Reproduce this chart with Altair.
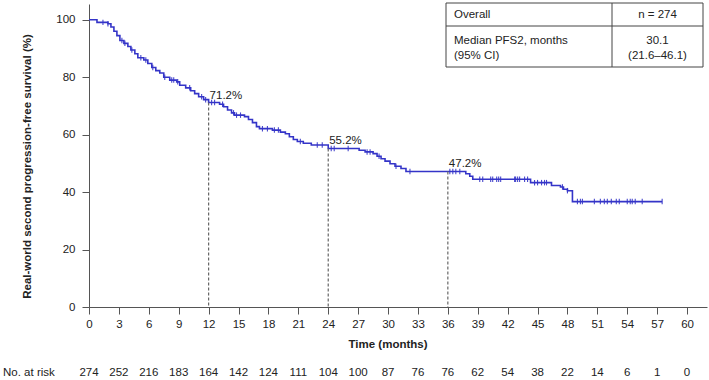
import altair as alt
import pandas as pd
import numpy as np

FONT = "Liberation Sans"
BLUE = "#3434C8"
TXT = "#222222"
AX = "#555555"

# Kaplan-Meier step curve (time in months, survival %)
step_t = [0, 0.8, 1.9, 2.2, 2.5, 2.8, 3.1, 3.5, 3.9, 4.2, 4.6, 4.9, 5.5, 5.9, 6.3, 6.7,
          7.1, 7.5, 8.1, 8.8, 9.1, 9.7, 10.2, 10.6, 11.0, 11.5, 12.0, 13.1, 13.5, 13.9,
          14.3, 14.6, 15.6, 16.0, 16.4, 16.8, 17.1, 18.4, 19.2, 19.7, 20.1, 20.5, 20.9,
          21.5, 22.3, 24.0, 27.1, 27.7, 28.5, 28.9, 29.3, 29.7, 30.2, 30.7, 31.3, 31.8,
          37.8, 38.2, 38.5, 44.3, 46.4, 47.3, 47.6, 48.0, 48.5, 57.5]
step_s = [100, 99.1, 98.6, 97.5, 96.0, 94.5, 92.8, 91.8, 90.7, 89.5, 88.2, 86.8, 86.0, 84.8,
          83.4, 82.3, 81.5, 80.0, 79.0, 78.4, 77.2, 76.3, 75.3, 74.3, 73.2, 72.2, 71.2, 70.6,
          69.7, 68.6, 67.6, 66.8, 66.3, 65.3, 64.2, 62.8, 62.1, 61.6, 60.9, 60.3, 59.3, 58.3,
          57.6, 57.0, 56.4, 55.2, 54.6, 54.0, 53.4, 52.5, 51.6, 50.8, 49.9, 49.0, 48.2, 47.2,
          46.4, 45.5, 44.5, 43.3, 42.3, 41.8, 41.0, 40.5, 36.7, 36.7]

# censored observations (months)
censor_t = [1.4, 1.9, 3.3, 3.6, 4.3, 5.2, 5.7, 6.4, 7.6, 8.3, 8.5, 8.9, 10.1, 11.3, 11.7,
            12.3, 12.6, 13.4, 14.5, 14.8, 15.2, 17.4, 17.9, 18.6, 19.0, 21.2, 22.9, 23.4,
            24.3, 24.6, 26.0, 27.9, 28.2, 29.1, 30.8, 32.2, 36.2, 36.5, 36.8, 37.2,
            39.2, 39.5, 40.3, 40.5, 40.9, 41.1, 41.3, 42.7, 42.8, 43.0, 43.2, 43.7, 44.0,
            44.7, 45.0, 45.4, 45.7, 45.9, 47.5, 48.0,
            49.0, 49.3, 49.5, 50.7, 51.3, 51.7, 52.0, 52.4, 52.9, 53.2, 54.0, 54.3, 54.5,
            54.8, 55.5, 57.5]

landmark_t = [12, 24, 36]
landmark_s = [71.2, 55.2, 47.2]
landmark_lbl = ["71.2%", "55.2%", "47.2%"]

x_ticks = list(range(0, 61, 3))
y_ticks = [0, 20, 40, 60, 80, 100]
risk_t = list(range(0, 61, 3))
risk_n = [274, 252, 216, 183, 164, 142, 124, 111, 104, 100, 87, 76, 76, 62, 54, 38, 22, 14, 6, 1, 0]

table_left = ["Overall", "Median PFS2, months", "(95% CI)"]
table_right = ["n = 274", "30.1", "(21.6\u201346.1)"]

x_title = "Time (months)"
y_title = "Real-world second progression-free survival (%)"
risk_label = "No. at risk"

# ---------------------------------------------------------------
curve = pd.DataFrame({"t": step_t, "s": step_s})
idx = np.searchsorted(np.array(step_t), np.array(censor_t), side="right") - 1
cens = pd.DataFrame({"t": censor_t, "s": [step_s[i] for i in idx]})
lm = pd.DataFrame({"t": landmark_t, "s": landmark_s, "lbl": landmark_lbl})
risk = pd.DataFrame({"t": risk_t, "n": [str(v) for v in risk_n]})
one = pd.DataFrame({"k": [0]})

xs = alt.Scale(domain=[0, 62], nice=False, zero=False)
ys = alt.Scale(domain=[0, 105.5], nice=False, zero=False)

x_axis = alt.Axis(values=x_ticks, title=None, grid=False, labelFont=FONT, labelFontSize=11.5,
                  labelColor=TXT, tickSize=7, tickColor=AX, domainColor=AX, labelPadding=4,
                  labelFlush=False, labelOverlap=False)
y_axis = alt.Axis(values=y_ticks, title=None, grid=False, labelFont=FONT, labelFontSize=11.5,
                  labelColor=TXT, tickSize=7, tickColor=AX, domainColor=AX, labelPadding=7)

X = alt.X("t:Q", scale=xs, axis=x_axis)
Y = alt.Y("s:Q", scale=ys, axis=y_axis)

line = alt.Chart(curve).mark_line(interpolate="step-after", color=BLUE, strokeWidth=1.6).encode(
    x=X, y=Y)

cmarks = alt.Chart(cens).mark_point(shape="M0,-1L0,1", size=30, color=BLUE, strokeWidth=1.1,
                                    filled=False, opacity=0.9).encode(x=X, y=Y)

dash = alt.Chart(lm).mark_rule(color="#666666", strokeDash=[3, 2], strokeWidth=1.2).encode(
    x=X, y=Y, y2=alt.datum(0))

lmtext = alt.Chart(lm).mark_text(align="left", baseline="alphabetic", dx=1, dy=-4,
                                 font=FONT, fontSize=11.5, color=TXT).encode(
    x=X, y=Y, text="lbl:N")

risktext = alt.Chart(risk).mark_text(align="center", baseline="middle", font=FONT,
                                     fontSize=11.5, color=TXT).encode(
    x=X, y=alt.value(369), text="n:N")

risklab = alt.Chart(one).mark_text(align="left", baseline="middle", font=FONT, fontSize=11.5,
                                   color=TXT, text=risk_label).encode(
    x=alt.value(-86), y=alt.value(369))

xt = alt.Chart(one).mark_text(align="center", baseline="middle", font=FONT, fontSize=11.5,
                              fontWeight="bold", color=TXT, text=x_title).encode(
    x=alt.value(299), y=alt.value(341))

yt = alt.Chart(one).mark_text(align="center", baseline="middle", font=FONT, fontSize=11.5,
                              fontWeight="bold", color=TXT, angle=270, text=y_title).encode(
    x=alt.value(-61), y=alt.value(162.5))

# table
tbox = alt.Chart(one).mark_rect(fill="white", stroke="#444444", strokeWidth=1).encode(
    x=alt.value(357), x2=alt.value(614), y=alt.value(-1), y2=alt.value(63))
tv = alt.Chart(one).mark_rule(color="#444444", strokeWidth=1).encode(
    x=alt.value(523), y=alt.value(-1), y2=alt.value(63))
th = alt.Chart(one).mark_rule(color="#444444", strokeWidth=1).encode(
    x=alt.value(357), x2=alt.value(614), y=alt.value(22))

row_y = [11, 36.5, 51.5]
cells = []
for i in range(3):
    cells.append(alt.Chart(one).mark_text(align="left", baseline="middle", font=FONT,
                                          fontSize=11.5, color=TXT, text=table_left[i]).encode(
        x=alt.value(365), y=alt.value(row_y[i])))
    cells.append(alt.Chart(one).mark_text(align="center", baseline="middle", font=FONT,
                                          fontSize=11.5, color=TXT, text=table_right[i]).encode(
        x=alt.value(568.5), y=alt.value(row_y[i])))

chart = alt.layer(line, dash, cmarks, lmtext, risktext, risklab, xt, yt,
                  tbox, tv, th, *cells).properties(
    width=618, height=303,
    autosize=alt.AutoSizeParams(type="none"),
    padding={"left": 89, "top": 4, "right": 2, "bottom": 73},
).configure_view(stroke=None)

chart.save("out.html", embed_options={"renderer": "svg", "actions": False})
